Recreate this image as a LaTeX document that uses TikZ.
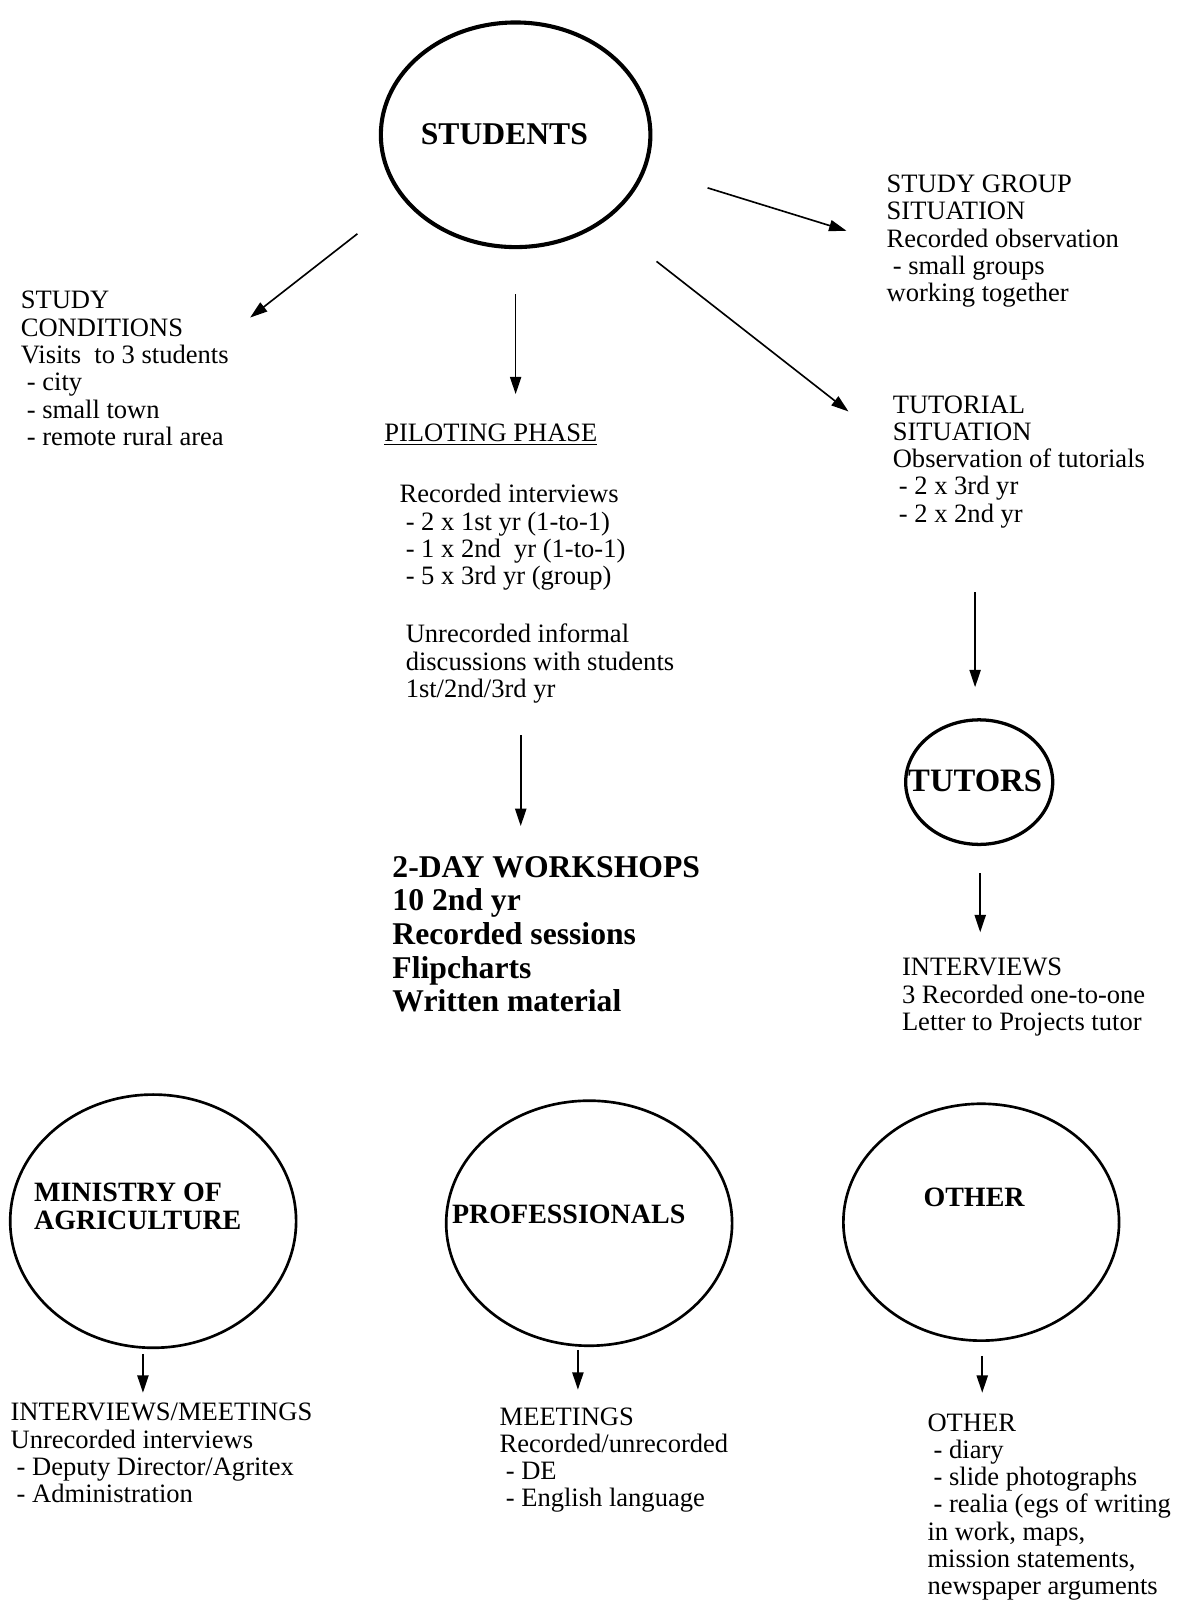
\documentclass[tikz,border=0pt]{standalone}
\usepackage{fontspec}
\setmainfont{Liberation Serif}
\usetikzlibrary{arrows.meta}
\begin{document}
\begin{tikzpicture}[x=0.5pt,y=-0.5pt,
  arr/.style={line width=0.8pt,-{Triangle[length=8.5pt,width=5.5pt]}},
  body/.style={anchor=north west,inner sep=0pt,align=left,font=\fontsize{13}{13.35}\selectfont},
  big/.style={anchor=north west,inner sep=0pt,align=left,font=\bfseries\fontsize{15.5}{16.5}\selectfont},
  circlab/.style={inner sep=0pt,align=left,font=\bfseries\fontsize{13.7}{13.6}\selectfont},
  ring/.style={draw,line width=1.3pt}]
\useasboundingbox (0,0) rectangle (1170,1568);
% circles
\draw[ring,line width=2pt] (505,132) ellipse [x radius=132,y radius=110];
\node[inner sep=0pt,font=\bfseries\fontsize{15.5}{16}\selectfont] (students) at (494,131) {STUDENTS};
\draw[ring,line width=1.6pt] (959,766) ellipse [x radius=72,y radius=61];
\node[inner sep=0pt,font=\bfseries\fontsize{16}{16}\selectfont] (tutors) at (955,765) {TUTORS};
\draw[ring] (150,1196) ellipse [x radius=140,y radius=124];
\node[circlab,anchor=north west] (ministry) at (33,1158) {MINISTRY OF\\AGRICULTURE};
\draw[ring] (577,1198) ellipse [x radius=140,y radius=120];
\node[circlab] (prof) at (557,1189) {PROFESSIONALS};
\draw[ring] (961,1197) ellipse [x radius=135,y radius=116];
\node[circlab] (other) at (954,1173) {OTHER};
% text blocks
\node[body] (cond) at (20,285) {STUDY\\CONDITIONS\\Visits~ to 3 students\\\hspace{3pt}- city\\\hspace{3pt}- small town\\\hspace{3pt}- remote rural area};
\node[body] (pilot) at (376,415) {\underline{PILOTING PHASE}};
\node[body] (recint) at (391,474) {Recorded interviews\\\hspace{3pt}- 2 x 1st yr (1-to-1)\\\hspace{3pt}- 1 x 2nd~ yr (1-to-1)\\\hspace{3pt}- 5 x 3rd yr (group)};
\node[body] (unrec) at (397,611) {Unrecorded informal\\discussions with students\\1st/2nd/3rd yr};
\node[body] (group) at (868,171) {STUDY GROUP\\SITUATION\\Recorded observation\\\hspace{3pt}- small groups\\working together};
\node[body] (tutorial) at (874,387) {TUTORIAL\\SITUATION\\Observation of tutorials\\\hspace{3pt}- 2 x 3rd yr\\\hspace{3pt}- 2 x 2nd yr};
\node[big] (workshops) at (384,838) {2-DAY WORKSHOPS\\10 2nd yr\\Recorded sessions\\Flipcharts\\Written material};
\node[body] (interviews) at (883,938) {INTERVIEWS\\3 Recorded one-to-one\\Letter to Projects tutor};
\node[body] (intmeet) at (10,1374) {INTERVIEWS/MEETINGS\\Unrecorded interviews\\\hspace{3pt}- Deputy Director/Agritex\\\hspace{3pt}- Administration};
\node[body] (meetings) at (489,1378) {MEETINGS\\Recorded/unrecorded\\\hspace{3pt}- DE\\\hspace{3pt}- English language};
\node[body] (otherlist) at (908,1384) {OTHER\\\hspace{3pt}- diary\\\hspace{3pt}- slide photographs\\\hspace{3pt}- realia (egs of writing\\in work, maps,\\mission statements,\\newspaper arguments};
% arrow ends
\coordinate (a1s) at (350,229); \coordinate (a1e) at (245,311);
\coordinate (a2s) at (505,288); \coordinate (a2e) at (505,386);
\coordinate (a3s) at (693,184); \coordinate (a3e) at (829,226);
\coordinate (a4s) at (643,256); \coordinate (a4e) at (831,403);
\coordinate (a5s) at (955,580); \coordinate (a5e) at (955,673);
\coordinate (a6s) at (510,720); \coordinate (a6e) at (510,809);
\coordinate (a7s) at (960,855); \coordinate (a7e) at (960,913);
\coordinate (a8s) at (140,1326); \coordinate (a8e) at (140,1364);
\coordinate (a9s) at (566,1322); \coordinate (a9e) at (566,1361);
\coordinate (a10s) at (962,1328); \coordinate (a10e) at (962,1364);
\foreach \i in {1,...,10} {\draw[arr] (a\i s) -- (a\i e);}
\end{tikzpicture}
\end{document}
